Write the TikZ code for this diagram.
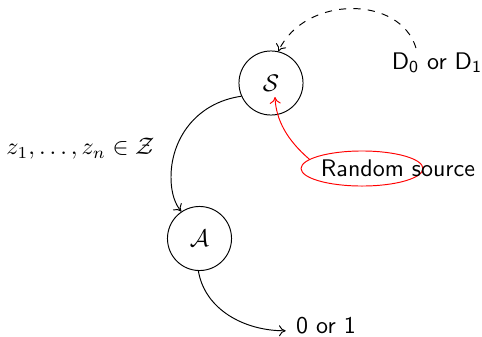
\documentclass[tikz,border=0pt]{standalone}
\usetikzlibrary{shapes.geometric,arrows.meta}
\begin{document}
\begin{tikzpicture}[x=0.4167pt,y=-0.4167pt,
  >={To[length=2.8pt,width=4.6pt]},
  party/.style={circle,draw,minimum size=26.7pt,inner sep=0pt},
  lbl/.style={font=\sffamily,inner sep=0pt}]
\useasboundingbox (0,0) rectangle (482,336);
\node[party] (S) at (271,83) {$\mathcal{S}$};
\node[party] (A) at (199.5,238.5) {$\mathcal{A}$};
\node[ellipse,draw=red,minimum width=50.8pt,minimum height=14.6pt,inner sep=0pt] (rsell) at (362,168.5) {};
\node[lbl] (rs) at (398,168) {Random source};
\node[lbl] (d) at (437,63) {D\textsubscript{0} or D\textsubscript{1}};
\node[inner sep=0pt] (z) at (80.5,149) {$z_1,\ldots,z_n\in\mathcal{Z}$};
\node[lbl] (out) at (326,326) {0 or 1};
\coordinate (dstart) at (416,48);
\coordinate (rend) at ([shift={(4,14)}]S.center);
\draw[dashed,->] (dstart) .. controls (400,-5) and (305,-5) .. (S.77);
\draw[red,->] (rsell.170) .. controls (287,140) and (276,120) .. (rend);
\draw[->] (S.204) .. controls (195,103) and (171,140) .. (171,177) .. controls (171,195) and (176,205) .. (A.124);
\draw[->] (A.268) .. controls (205,310) and (245,331) .. ([xshift=-4.2pt,yshift=1.3pt]out.base west);
\end{tikzpicture}
\end{document}
